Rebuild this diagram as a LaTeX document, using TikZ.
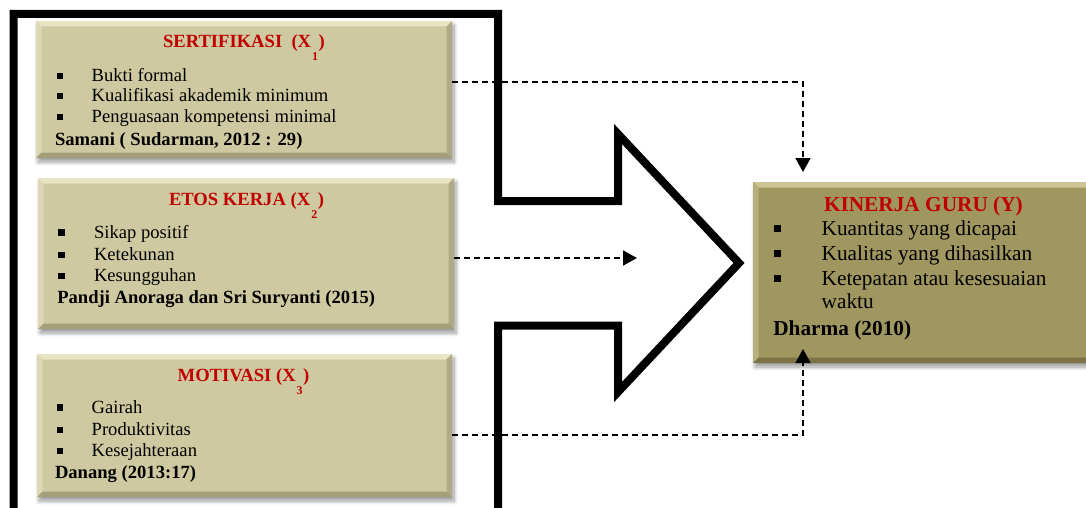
\documentclass[tikz,border=0pt]{standalone}
\usepackage{fontspec}
\setmainfont{Liberation Serif}
\usetikzlibrary{arrows.meta,shadows.blur}

\definecolor{boxfill}{RGB}{206,201,160}
\definecolor{boxtop}{RGB}{232,228,196}
\definecolor{boxleft}{RGB}{220,216,182}
\definecolor{boxright}{RGB}{176,171,134}
\definecolor{boxbottom}{RGB}{164,159,122}
\definecolor{yfill}{RGB}{160,150,96}
\definecolor{ytop}{RGB}{204,196,146}
\definecolor{yleft}{RGB}{184,176,124}
\definecolor{yright}{RGB}{130,122,76}
\definecolor{ybottom}{RGB}{124,116,72}
\definecolor{titlered}{RGB}{192,0,0}

% bevelled edges of a panel: node, top, left, right, bottom colours
\newcommand\bevelpanel[5]{%
  \fill[#2] (#1.north west) -- (#1.north east) -- ([shift={(-5.5,5.5)}]#1.north east) -- ([shift={(5.5,5.5)}]#1.north west) -- cycle;
  \fill[#3] (#1.north west) -- ([shift={(5.5,5.5)}]#1.north west) -- ([shift={(5.5,-5.5)}]#1.south west) -- (#1.south west) -- cycle;
  \fill[#4] (#1.north east) -- ([shift={(-5.5,5.5)}]#1.north east) -- ([shift={(-5.5,-5.5)}]#1.south east) -- (#1.south east) -- cycle;
  \fill[#5] (#1.south west) -- ([shift={(5.5,-5.5)}]#1.south west) -- ([shift={(-5.5,-5.5)}]#1.south east) -- (#1.south east) -- cycle;
}
% lowered index after the X of a variable name
\newcommand\subx[1]{\hspace{1pt}\raisebox{-13pt}[0pt][0pt]{\fontsize{12}{12}\selectfont #1}\hspace{0.5pt}}

\tikzset{
  x=1pt, y=-1pt,
  panel/.style={rectangle, inner sep=0pt, outer sep=0pt,
    blur shadow={shadow xshift=2pt, shadow yshift=-4pt, shadow blur radius=4pt,
      shadow blur steps=8, shadow opacity=40}},
  txt/.style={anchor=base west, inner sep=0pt, outer sep=0pt,
    font=\fontsize{18.6}{22}\selectfont},
  ttl/.style={txt, text=titlered, font=\fontsize{18.6}{22}\selectfont\bfseries},
  src/.style={txt, font=\fontsize{18.6}{22}\selectfont\bfseries},
  ytxt/.style={txt, font=\fontsize{21.3}{25}\selectfont},
  bul/.style={rectangle, fill=black, inner sep=0pt, minimum size=6.5pt},
  ybul/.style={rectangle, fill=black, inner sep=0pt, minimum size=7.5pt},
  outline/.style={line width=8pt, miter limit=10},
  conn/.style={line width=1.7pt, dash pattern=on 6pt off 4pt,
    -{Triangle[length=14pt,width=15pt]}},
}

\begin{document}
\begin{tikzpicture}
\useasboundingbox (0,0) rectangle (1086,508);
\begin{scope}
\clip (0,0) rectangle (1086,508);

% large open arrow behind the panels
\draw[outline] (13.5,520) -- (13.5,14) -- (498,14) -- (498,201) -- (618,201)
  -- (618,134) -- (739,263) -- (618,392) -- (618,325.5) -- (498,325.5) -- (498,520);

% independent variables
\node[panel, fill=boxfill, minimum width=416pt, minimum height=137pt] (b1) at (244,89.5) {};
\bevelpanel{b1}{boxtop}{boxleft}{boxright}{boxbottom}
\node[panel, fill=boxfill, minimum width=416pt, minimum height=151pt] (b2) at (246,253.5) {};
\bevelpanel{b2}{boxtop}{boxleft}{boxright}{boxbottom}
\node[panel, fill=boxfill, minimum width=415pt, minimum height=143pt] (b3) at (244.5,425.5) {};
\bevelpanel{b3}{boxtop}{boxleft}{boxright}{boxbottom}

% dependent variable
\node[panel, fill=yfill, minimum width=342pt, minimum height=181pt] (ky) at (924,272.5) {};
\bevelpanel{ky}{ytop}{yleft}{yright}{ybottom}

% panel 1
\node[ttl] (t1) at (163,48) {SERTIFIKASI~~(X\subx{1})};
\node[bul] (p1a) at (60,76) {};
\node[bul] (p1b) at (60,96) {};
\node[bul] (p1c) at (60,117) {};
\node[txt] (l1a) at (91.7,81.7) {Bukti formal};
\node[txt] (l1b) at (91.7,101.9) {Kualifikasi akademik minimum};
\node[txt] (l1c) at (91.7,122.7) {Penguasaan kompetensi minimal};
\node[src] (s1) at (55,145) {Samani ( Sudarman, 2012 : 29)};

% panel 2
\node[ttl] (t2) at (169,205) {ETOS KERJA (X\subx{2})};
\node[bul] (p2a) at (61.7,232.6) {};
\node[bul] (p2b) at (61.7,255) {};
\node[bul] (p2c) at (61.7,276) {};
\node[txt] (l2a) at (94,238.3) {Sikap positif};
\node[txt] (l2b) at (94,260.7) {Ketekunan};
\node[txt] (l2c) at (94,281.7) {Kesungguhan};
\node[src] (s2) at (57.3,303.3) {Pandji Anoraga dan Sri Suryanti (2015)};

% panel 3
\node[ttl] (t3) at (177.7,381.7) {MOTIVASI (X\subx{3})};
\node[bul] (p3a) at (60,407.6) {};
\node[bul] (p3b) at (60,430) {};
\node[bul] (p3c) at (60,451) {};
\node[txt] (l3a) at (91.7,413.3) {Gairah};
\node[txt] (l3b) at (91.7,435.7) {Produktivitas};
\node[txt] (l3c) at (91.7,456.7) {Kesejahteraan};
\node[src] (s3) at (55,478.3) {Danang (2013:17)};

% dependent panel text
\node[ttl, font=\fontsize{21.3}{25}\selectfont\bfseries] (ty) at (824,211.7) {KINERJA GURU (Y)};
\node[ybul] (pya) at (777.3,228.3) {};
\node[ybul] (pyb) at (777.3,253.3) {};
\node[ybul] (pyc) at (777.3,278.3) {};
\node[ytxt] (lya) at (821.7,235) {Kuantitas yang dicapai};
\node[ytxt] (lyb) at (821.7,260) {Kualitas yang dihasilkan};
\node[ytxt] (lyc) at (821.7,285) {Ketepatan atau kesesuaian};
\node[ytxt] (lyd) at (821.7,308.3) {waktu};
\node[src, font=\fontsize{21.3}{25}\selectfont\bfseries] (sy) at (773.3,335) {Dharma (2010)};

% dashed influences
\coordinate (x2end) at (637,258);
\draw[conn] ([yshift=7.5pt]b1.east) -| ([xshift=-121pt,yshift=10pt]ky.north);
\draw[conn] ([yshift=-4.5pt]b2.east) -- (x2end);
\draw[conn] ([yshift=-9.5pt]b3.east) -| ([xshift=-121pt,yshift=14pt]ky.south);
\end{scope}
\end{tikzpicture}
\end{document}
